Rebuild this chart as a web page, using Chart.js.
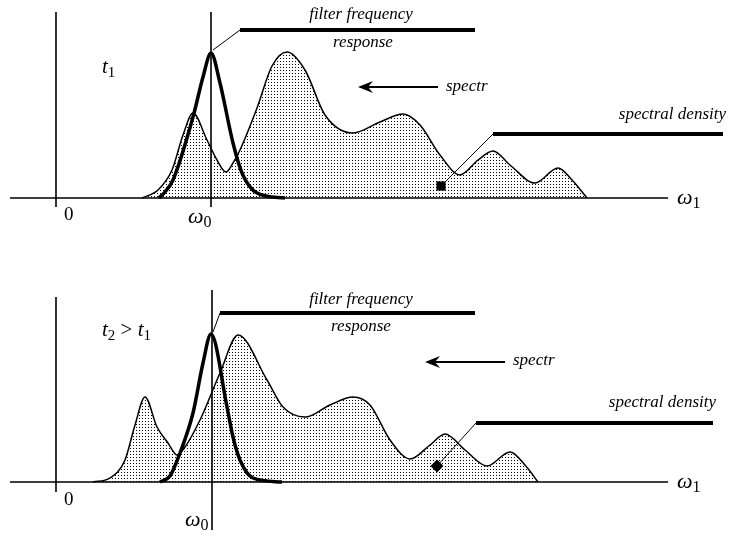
<!DOCTYPE html>
<html>
<head>
<meta charset="utf-8">
<script src="https://cdn.jsdelivr.net/npm/chart.js@4"></script>
<style>
  body { margin: 0; background: #fff; }
  .panel { position: absolute; left: 0; width: 737px; height: 270px; }
</style>
</head>
<body>
<div class="panel" style="top:0"><canvas id="topChart"></canvas></div>
<div class="panel" style="top:270px"><canvas id="bottomChart"></canvas></div>
<script>
// frequency axis: 0 at the vertical axis, omega0 = 155
// amplitude: 0 on the baseline

// t1 panel
const topSpecX = [86, 102, 116, 127, 137, 151, 161, 170, 177, 184, 201, 216, 231, 249, 269, 297, 324, 347, 364, 384, 404, 422, 437, 454, 479, 502, 516, 531];
const topSpecY = [0, 8, 28, 63, 85, 58, 38, 26, 35, 48, 90, 132, 146, 128, 83, 65, 76, 84, 73, 43, 23, 38, 47, 33, 15, 30, 18, 0];
const topFiltX = [103, 109, 117, 137, 147, 155, 164, 177, 186, 201, 229];
const topFiltY = [0, 6, 18, 81, 121, 145, 115, 55, 25, 5, 0];
const topMarkX = [385];
const topMarkY = [12];

// t2 > t1 panel
const botSpecX = [37, 54, 69, 79, 89, 101, 112, 121, 129, 144, 164, 182, 211, 227, 249, 274, 297, 314, 334, 354, 374, 389, 409, 431, 454, 469, 482];
const botSpecY = [0, 4, 22, 57, 85, 55, 39, 27, 35, 62, 109, 147, 102, 75, 65, 77, 85, 77, 42, 23, 37, 48, 32, 16, 30, 17, 0];
const botFiltX = [104, 114, 124, 137, 147, 155, 171, 177, 184, 197, 226];
const botFiltY = [0, 6, 29, 69, 119, 148, 75, 45, 22, 4, 0];
const botMarkX = [381];
const botMarkY = [16];

const SERIF = '"Liberation Serif", "DejaVu Serif", serif';

// dotted fill like the printed figure
function dotPattern() {
  const c = document.createElement("canvas");
  c.width = 3; c.height = 3;
  const g = c.getContext("2d");
  g.fillStyle = "#fff";
  g.fillRect(0, 0, 3, 3);
  g.fillStyle = "#000";
  g.fillRect(1, 1, 1, 1);
  return g.createPattern(c, "repeat");
}

function pts(xs, ys) {
  return xs.map((x, i) => ({ x: x, y: ys[i] }));
}

// text with italic letters and subscripts
function drawParts(ctx, x, y, parts, size) {
  let cx = x;
  ctx.textBaseline = "middle";
  ctx.textAlign = "left";
  parts.forEach(p => {
    if (p.s) {
      ctx.font = Math.round(size * 0.72) + "px " + SERIF;
      ctx.fillText(p.t, cx, y + size * 0.28);
    } else {
      ctx.font = (p.i ? "italic " : "") + size + "px " + SERIF;
      ctx.fillText(p.t, cx, y);
    }
    cx += ctx.measureText(p.t).width;
  });
}

const annotPlugin = {
  id: "annot",
  afterDatasetsDraw(chart, args, o) {
    const ctx = chart.ctx;
    const X = v => chart.scales.x.getPixelForValue(v);
    const Y = v => chart.scales.y.getPixelForValue(v);

    ctx.save();
    ctx.strokeStyle = "#000";
    ctx.fillStyle = "#000";
    ctx.lineCap = "butt";

    // axes and omega0 line
    ctx.lineWidth = 1.6;
    ctx.beginPath();
    ctx.moveTo(X(o.axisX[0]), Y(0));
    ctx.lineTo(X(o.axisX[1]), Y(0));
    ctx.moveTo(X(0), Y(o.axisY[0]));
    ctx.lineTo(X(0), Y(o.axisY[1]));
    ctx.moveTo(X(o.w0[0]), Y(o.w0[1]));
    ctx.lineTo(X(o.w0[0]), Y(o.w0[2]));
    ctx.stroke();

    // leaders: thin part then thick bar
    [o.filterLeader, o.densLeader].forEach(l => {
      ctx.lineWidth = 1;
      ctx.beginPath();
      ctx.moveTo(X(l[0][0]), Y(l[0][1]));
      ctx.lineTo(X(l[1][0]), Y(l[1][1]));
      ctx.stroke();
      ctx.lineWidth = 4;
      ctx.beginPath();
      ctx.moveTo(X(l[1][0]), Y(l[1][1]));
      ctx.lineTo(X(l[2][0]), Y(l[2][1]));
      ctx.stroke();
    });

    // spectr arrow
    const ax0 = X(o.arrow[0]), ax1 = X(o.arrow[1]), ay = Y(o.arrow[2]);
    ctx.lineWidth = 2.2;
    ctx.beginPath();
    ctx.moveTo(ax0, ay);
    ctx.lineTo(ax1 + 8, ay);
    ctx.stroke();
    ctx.beginPath();
    ctx.moveTo(ax1, ay);
    ctx.lineTo(ax1 + 15, ay - 6);
    ctx.lineTo(ax1 + 10, ay);
    ctx.lineTo(ax1 + 15, ay + 6);
    ctx.closePath();
    ctx.fill();

    // labels
    ctx.font = "italic 17px " + SERIF;
    ctx.textBaseline = "middle";
    ctx.textAlign = "center";
    ctx.fillText("filter frequency", X(o.filterText[0]), Y(o.filterText[1]));
    ctx.fillText("response", X(o.responseText[0]), Y(o.responseText[1]));
    ctx.textAlign = "left";
    ctx.fillText("spectr", X(o.spectrText[0]), Y(o.spectrText[1]));
    ctx.textAlign = "right";
    ctx.fillText("spectral density", X(o.densText[0]), Y(o.densText[1]));

    ctx.font = "19px " + SERIF;
    ctx.textAlign = "left";
    ctx.fillText("0", X(o.zero[0]), Y(o.zero[1]));

    drawParts(ctx, X(o.w0Label[0]), Y(o.w0Label[1]), [{ t: "\u03c9", i: true }, { t: "0", s: true }], 22);
    drawParts(ctx, X(o.w1Label[0]), Y(o.w1Label[1]), [{ t: "\u03c9", i: true }, { t: "1", s: true }], 22);
    drawParts(ctx, X(o.tLabel[0]), Y(o.tLabel[1]), o.tParts, 21);

    ctx.restore();
  }
};

function makePanel(id, specX, specY, filtX, filtY, markX, markY, markStyle, yMin, yMax, annot) {
  return new Chart(document.getElementById(id), {
    type: "line",
    data: {
      datasets: [
        {
          data: pts(markX, markY),
          showLine: false,
          pointStyle: markStyle,
          pointRadius: 6.5,
          pointBorderWidth: 0,
          pointBackgroundColor: "#000",
          pointBorderColor: "#000",
          order: 0
        },
        {
          data: pts(filtX, filtY),
          borderColor: "#000",
          borderWidth: 3.5,
          pointRadius: 0,
          cubicInterpolationMode: "monotone",
          fill: false,
          order: 1
        },
        {
          data: pts(specX, specY),
          borderColor: "#000",
          borderWidth: 1.5,
          pointRadius: 0,
          cubicInterpolationMode: "monotone",
          fill: "origin",
          backgroundColor: dotPattern(),
          order: 2
        }
      ]
    },
    options: {
      responsive: true,
      maintainAspectRatio: false,
      animation: false,
      layout: { padding: 0, autoPadding: false },
      events: [],
      plugins: {
        legend: { display: false },
        tooltip: { enabled: false },
        annot: annot
      },
      scales: {
        x: { type: "linear", min: -56, max: 681, display: false },
        y: { type: "linear", min: yMin, max: yMax, display: false }
      }
    },
    plugins: [annotPlugin]
  });
}

makePanel("topChart", topSpecX, topSpecY, topFiltX, topFiltY, topMarkX, topMarkY, "rect", -72, 198, {
  axisX: [-46, 612],
  axisY: [-9, 186],
  w0: [155, -9, 186],
  zero: [8, -17],
  w0Label: [132, -19],
  w1Label: [621, 0],
  tLabel: [46, 131],
  tParts: [{ t: "t", i: true }, { t: "1", s: true }],
  filterLeader: [[157, 148], [184, 168], [419, 168]],
  filterText: [305, 183],
  responseText: [307, 155],
  arrow: [382, 302, 111],
  spectrText: [390, 111],
  densLeader: [[385, 12], [437, 64], [667, 64]],
  densText: [670, 83]
});

makePanel("bottomChart", botSpecX, botSpecY, botFiltX, botFiltY, botMarkX, botMarkY, "rectRot", -58, 212, {
  axisX: [-46, 612],
  axisY: [-10, 185],
  w0: [156, -48, 192],
  zero: [8, -18],
  w0Label: [129, -38],
  w1Label: [621, 0],
  tLabel: [46, 152],
  tParts: [{ t: "t", i: true }, { t: "2", s: true }, { t: " > " }, { t: "t", i: true }, { t: "1", s: true }],
  filterLeader: [[157, 150], [164, 169], [419, 169]],
  filterText: [305, 182],
  responseText: [305, 155],
  arrow: [449, 369, 120],
  spectrText: [457, 121],
  densLeader: [[381, 16], [420, 59], [657, 59]],
  densText: [660, 79]
});
</script>
</body>
</html>
